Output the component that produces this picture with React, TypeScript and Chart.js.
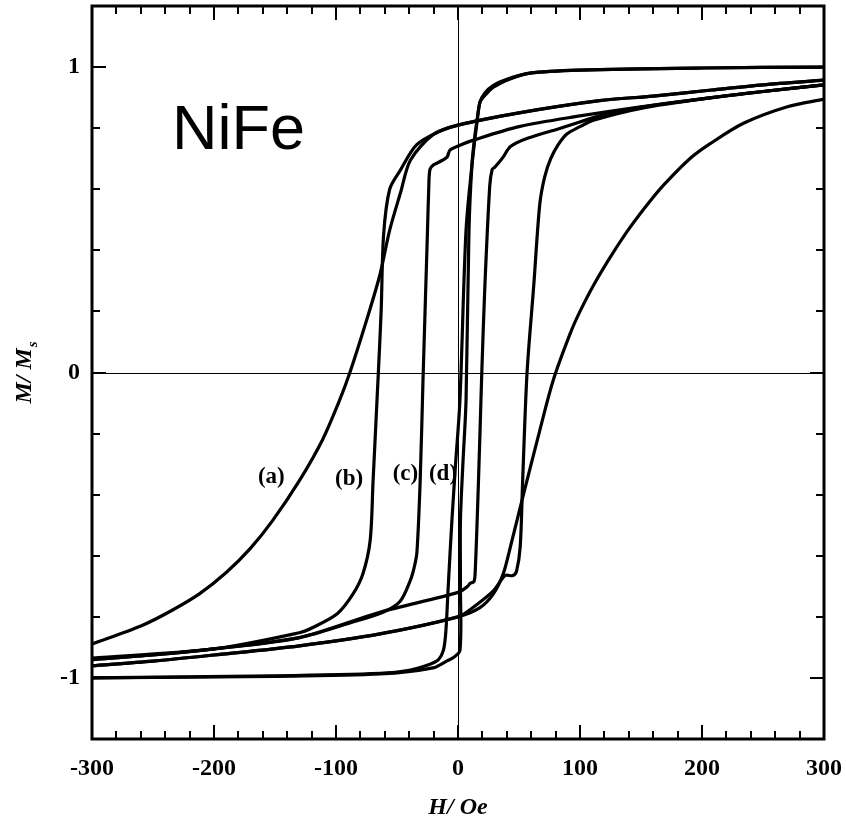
import React, { useEffect, useRef } from 'react';
import { Chart, registerables } from 'chart.js';

Chart.register(...registerables);

// ---- Data (H in Oe, M/Ms) ----
const aDescH = [300, 250, 208, 160, 116, 50, 0, -20, -39, -47, -56, -64, -75, -88.6, -98, -111, -130, -152, -170, -190, -212, -235, -260, -300];
const aDescM = [0.957, 0.942, 0.925, 0.905, 0.89, 0.85, 0.81, 0.78, 0.695, 0.59, 0.466, 0.32, 0.17, 0.0, -0.1, -0.22, -0.354, -0.485, -0.575, -0.655, -0.725, -0.78, -0.83, -0.889];
const aAscH = [-300, -250, -200, -130, -64, 0, 18, 29, 37, 43, 53, 67, 78, 92, 100, 111, 126, 141, 158, 170, 190, 207, 234, 270, 300];
const aAscM = [-0.96, -0.945, -0.925, -0.895, -0.856, -0.8, -0.77, -0.725, -0.66, -0.57, -0.41, -0.19, -0.026, 0.128, 0.2, 0.285, 0.385, 0.475, 0.564, 0.62, 0.7, 0.75, 0.816, 0.87, 0.895];

const bDescH = [300, 250, 208, 160, 116, 50, 0, -15, -34, -47.6, -56, -61, -63, -65.6, -69.6, -72, -78, -86, -99, -119, -130, -200, -300];
const bDescM = [0.957, 0.942, 0.925, 0.905, 0.89, 0.85, 0.81, 0.79, 0.745, 0.66, 0.6, 0.45, 0.2, -0.026, -0.354, -0.55, -0.66, -0.725, -0.79, -0.835, -0.852, -0.905, -0.935];
const bAscH = [-300, -250, -200, -130, -64, 0, 12, 29, 38.6, 45, 48, 51, 53, 56.6, 62, 67, 71, 76, 82, 89, 100, 111, 150, 208, 250, 300];
const bAscM = [-0.96, -0.945, -0.925, -0.895, -0.856, -0.8, -0.77, -0.715, -0.665, -0.665, -0.65, -0.57, -0.354, 0.0, 0.28, 0.55, 0.64, 0.7, 0.745, 0.78, 0.805, 0.826, 0.865, 0.9, 0.92, 0.942];

const cDescH = [300, 250, 208, 150, 100, 50, 12, 1.6, -6.6, -9, -15, -20, -23, -24, -25, -27, -28.7, -31, -33.7, -36, -39, -47.6, -61.5, -88.6, -130, -200, -250, -300];
const cDescM = [0.942, 0.92, 0.9, 0.87, 0.84, 0.805, 0.76, 0.744, 0.728, 0.705, 0.69, 0.68, 0.665, 0.6, 0.466, 0.2, -0.026, -0.354, -0.59, -0.64, -0.68, -0.75, -0.785, -0.82, -0.868, -0.905, -0.925, -0.94];
const cAscH = [-300, -250, -200, -130, -64, 0, 8, 10, 13, 14, 16, 18, 19.5, 22, 26, 28, 30, 33, 37, 43, 57, 84, 130, 208, 250, 300];
const cAscM = [-0.94, -0.925, -0.905, -0.868, -0.785, -0.72, -0.7, -0.69, -0.685, -0.66, -0.45, -0.2, 0.0, 0.28, 0.61, 0.665, 0.672, 0.685, 0.705, 0.74, 0.767, 0.8, 0.855, 0.9, 0.92, 0.942];

const dDescH = [300, 200, 100, 59, 40, 29, 22, 18, 15.6, 12, 6.6, 1.6, -2, -5, -8, -10, -12, -16, -23, -40, -64, -150, -300];
const dDescM = [1.0, 0.997, 0.99, 0.98, 0.96, 0.94, 0.915, 0.885, 0.82, 0.7, 0.466, -0.09, -0.3, -0.485, -0.7, -0.85, -0.91, -0.94, -0.955, -0.975, -0.985, -0.993, -1.0];
const dAscH = [-300, -150, -64, -20.5, -9, -4, 1.6, 2, 2, 4, 6.6, 9, 11.5, 14, 15.6, 18, 20.5, 25, 29, 40, 59, 100, 200, 300];
const dAscM = [-1.0, -0.995, -0.987, -0.967, -0.944, -0.934, -0.91, -0.7, -0.485, -0.3, -0.09, 0.466, 0.685, 0.78, 0.826, 0.885, 0.9, 0.92, 0.934, 0.957, 0.98, 0.99, 0.997, 1.0];

const xLabelTicks = [-300, -200, -100, 0, 100, 200, 300];
const yLabelTicks = [-1, 0, 1];
const xMinorStep = 20;
const yMinorStep = 0.2;

const curveLabels = ['(a)', '(b)', '(c)', '(d)'];
const curveLabelH = [-153, -89.3, -43.1, -12.3];
const curveLabelM = [-0.341, -0.349, -0.334, -0.334];

const sampleName = 'NiFe';
const sampleNameH = -234.4;
const sampleNameM = 0.731;

const xTitle = 'H/ Oe';
const yTitleMain = 'M/ M';
const yTitleSub = 's';

const SERIF = '"Liberation Serif", "Times New Roman", serif';

const toPts = (H: number[], M: number[]) => H.map((h, i) => ({ x: h, y: M[i] }));

const framePlugin = {
  id: 'frame',
  beforeDatasetsDraw(chart: any) {
    const { ctx, chartArea: ca, scales } = chart;
    const x0 = scales.x.getPixelForValue(0);
    const y0 = scales.y.getPixelForValue(0);
    ctx.save();
    ctx.strokeStyle = '#000';
    ctx.lineWidth = 1;
    ctx.beginPath();
    ctx.moveTo(Math.round(x0) + 0.5, ca.top);
    ctx.lineTo(Math.round(x0) + 0.5, ca.bottom);
    ctx.moveTo(ca.left, Math.round(y0) + 0.5);
    ctx.lineTo(ca.right, Math.round(y0) + 0.5);
    ctx.stroke();
    ctx.restore();
  },
  afterDraw(chart: any) {
    const { ctx, chartArea: ca, scales } = chart;
    const xs = scales.x;
    const ys = scales.y;
    ctx.save();
    ctx.strokeStyle = '#000';
    ctx.lineWidth = 2;
    ctx.beginPath();
    for (let v = xs.min; v <= xs.max + 1e-9; v += xMinorStep) {
      const major = xLabelTicks.some((t) => Math.abs(t - v) < 1e-6);
      const len = major ? 14 : 8;
      const px = Math.round(xs.getPixelForValue(v));
      ctx.moveTo(px, ca.bottom);
      ctx.lineTo(px, ca.bottom - len);
      ctx.moveTo(px, ca.top);
      ctx.lineTo(px, ca.top + len);
    }
    for (let k = -6; k <= 6; k++) {
      const v = k * yMinorStep;
      const major = yLabelTicks.some((t) => Math.abs(t - v) < 1e-6);
      const len = major ? 14 : 8;
      const py = Math.round(ys.getPixelForValue(v));
      ctx.moveTo(ca.left, py);
      ctx.lineTo(ca.left + len, py);
      ctx.moveTo(ca.right, py);
      ctx.lineTo(ca.right - len, py);
    }
    ctx.stroke();
    ctx.lineWidth = 3;
    ctx.strokeRect(ca.left, ca.top, ca.right - ca.left, ca.bottom - ca.top);

    ctx.fillStyle = '#000';
    ctx.font = `italic bold 24px ${SERIF}`;
    ctx.textAlign = 'center';
    ctx.textBaseline = 'middle';
    ctx.fillText(xTitle, (ca.left + ca.right) / 2, 808);

    ctx.save();
    ctx.translate(31, (ca.top + ca.bottom) / 2);
    ctx.rotate(-Math.PI / 2);
    ctx.font = `italic bold 24px ${SERIF}`;
    const w1 = ctx.measureText(yTitleMain).width;
    ctx.font = `italic bold 15px ${SERIF}`;
    const w2 = ctx.measureText(yTitleSub).width;
    const start = -(w1 + w2 + 1) / 2;
    ctx.textAlign = 'left';
    ctx.textBaseline = 'alphabetic';
    ctx.font = `italic bold 24px ${SERIF}`;
    ctx.fillText(yTitleMain, start, 0);
    ctx.font = `italic bold 15px ${SERIF}`;
    ctx.fillText(yTitleSub, start + w1 + 1, 6);
    ctx.restore();

    ctx.font = '63px "Liberation Sans", Arial, sans-serif';
    ctx.textAlign = 'left';
    ctx.textBaseline = 'alphabetic';
    ctx.fillText(sampleName, xs.getPixelForValue(sampleNameH), ys.getPixelForValue(sampleNameM));

    ctx.font = `bold 23px ${SERIF}`;
    ctx.textAlign = 'center';
    ctx.textBaseline = 'middle';
    curveLabels.forEach((t, i) => {
      ctx.fillText(t, xs.getPixelForValue(curveLabelH[i]), ys.getPixelForValue(curveLabelM[i]));
    });
    ctx.restore();
  },
};

export default function App() {
  const ref = useRef<HTMLCanvasElement>(null);
  useEffect(() => {
    document.body.style.margin = '0';
    const canvas = ref.current;
    if (!canvas) return;
    const branches = [
      [aDescH, aDescM], [aAscH, aAscM],
      [bDescH, bDescM], [bAscH, bAscM],
      [cDescH, cDescM], [cAscH, cAscM],
      [dDescH, dDescM], [dAscH, dAscM],
    ];
    const datasets = branches.map(([H, M]) => ({
      data: toPts(H, M),
      showLine: true,
      borderColor: '#000',
      backgroundColor: '#000',
      borderWidth: 3.2,
      pointRadius: 0,
      tension: 0.3,
      fill: false,
    }));
    const tickFont = { family: SERIF, size: 24, weight: 'bold' as const };
    const chart = new Chart(canvas, {
      type: 'scatter',
      data: { datasets },
      options: {
        animation: false,
        responsive: false,
        events: [],
        plugins: { legend: { display: false }, tooltip: { enabled: false } },
        layout: { padding: { top: 6, right: 22, left: 0, bottom: 0 } },
        scales: {
          x: {
            type: 'linear',
            min: -300,
            max: 300,
            afterBuildTicks: (s: any) => { s.ticks = xLabelTicks.map((v) => ({ value: v })); },
            afterFit: (s: any) => { s.height = 85; s.paddingLeft = 0; s.paddingRight = 0; },
            grid: { display: false, drawTicks: false },
            border: { display: false },
            ticks: { font: tickFont, color: '#000', padding: 15, maxRotation: 0, autoSkip: false },
          },
          y: {
            type: 'linear',
            min: -1.2,
            max: 1.2,
            afterBuildTicks: (s: any) => { s.ticks = yLabelTicks.map((v) => ({ value: v })); },
            afterFit: (s: any) => { s.width = 92; s.paddingTop = 0; s.paddingBottom = 0; },
            grid: { display: false, drawTicks: false },
            border: { display: false },
            ticks: { font: tickFont, color: '#000', padding: 12, autoSkip: false },
          },
        },
      },
      plugins: [framePlugin],
    } as any);
    return () => chart.destroy();
  }, []);
  return (
    <div style={{ width: 846, height: 824 }}>
      <canvas ref={ref} width={846} height={824} style={{ display: 'block' }} />
    </div>
  );
}
